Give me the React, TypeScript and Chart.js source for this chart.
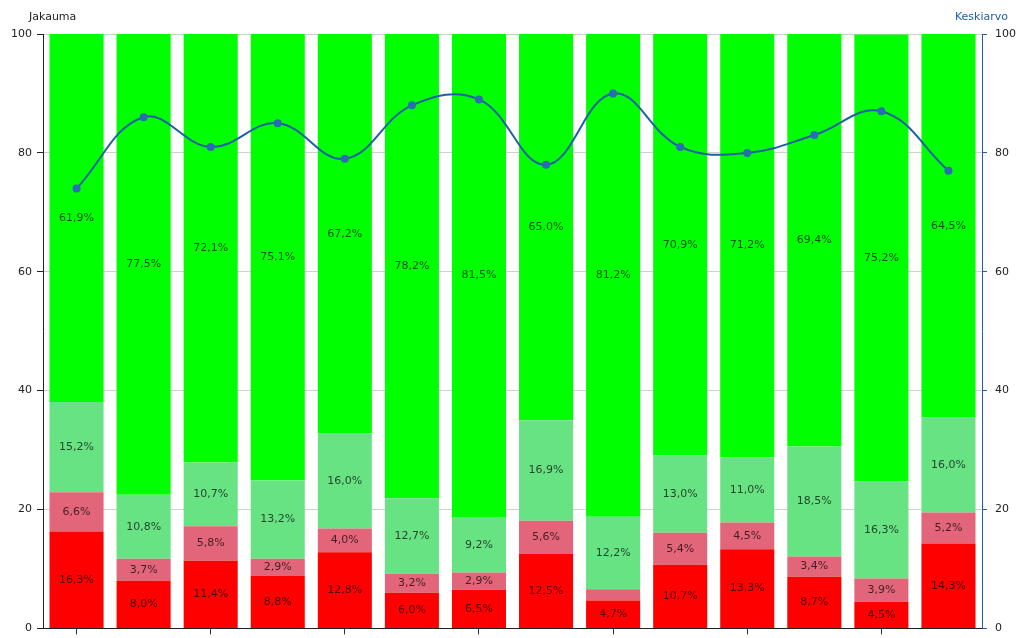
import React, { useEffect, useRef } from "react";
import { Chart, registerables } from "chart.js";

Chart.register(...registerables);

const categories = ["1", "2", "3", "4", "5", "6", "7", "8", "9", "10", "11", "12", "13", "14"];
const redValues = [16.3, 8.0, 11.4, 8.8, 12.8, 6.0, 6.5, 12.5, 4.7, 10.7, 13.3, 8.7, 4.5, 14.3];
const pinkValues = [6.6, 3.7, 5.8, 2.9, 4.0, 3.2, 2.9, 5.6, 1.9, 5.4, 4.5, 3.4, 3.9, 5.2];
const lightGreenValues = [15.2, 10.8, 10.7, 13.2, 16.0, 12.7, 9.2, 16.9, 12.2, 13.0, 11.0, 18.5, 16.3, 16.0];
const greenValues = [61.9, 77.5, 72.1, 75.1, 67.2, 78.2, 81.5, 65.0, 81.2, 70.9, 71.2, 69.4, 75.2, 64.5];
const averageValues = [74, 86, 81, 85, 79, 88, 89, 78, 90, 81, 80, 83, 87, 77];
const leftTitle = "Jakauma";
const rightTitle = "Keskiarvo";

const FONT = "'DejaVu Sans', Verdana, sans-serif";
const BLUE = "#1f5fa6";

const labelPlugin = {
  id: "barLabels",
  afterDatasetsDraw(chart: any) {
    const ctx = chart.ctx;
    ctx.save();
    ctx.font = `11px ${FONT}`;
    ctx.textAlign = "center";
    ctx.textBaseline = "middle";
    ctx.fillStyle = "rgba(0,0,0,0.7)";
    chart.data.datasets.forEach((ds: any, di: number) => {
      if (ds.type === "line") return;
      const meta = chart.getDatasetMeta(di);
      meta.data.forEach((el: any, i: number) => {
        const v = ds.data[i];
        if (v < 2.5) return;
        const y = (el.y + el.base) / 2;
        ctx.fillText(v.toFixed(1).replace(".", ",") + "%", el.x, y);
      });
    });
    ctx.restore();
  },
  afterDraw(chart: any) {
    const ctx = chart.ctx;
    const area = chart.chartArea;
    ctx.save();
    ctx.font = `11px ${FONT}`;
    ctx.textBaseline = "middle";
    ctx.fillStyle = "#222";
    ctx.textAlign = "left";
    ctx.fillText(leftTitle, area.left - 14, 17);
    ctx.fillStyle = BLUE;
    ctx.textAlign = "right";
    ctx.fillText(rightTitle, area.right + 26, 17);
    ctx.restore();
  },
};

export default function App() {
  const ref = useRef<HTMLCanvasElement>(null);
  useEffect(() => {
    if (!ref.current) return;
    const barCommon = {
      type: "bar" as const,
      yAxisID: "y",
      stack: "s",
      order: 1,
      categoryPercentage: 1,
      barPercentage: 0.806,
      borderWidth: 0,
    };
    const chart = new Chart(ref.current, {
      type: "bar",
      data: {
        labels: categories,
        datasets: [
          { ...barCommon, label: "r", data: redValues, backgroundColor: "#ff0000" },
          { ...barCommon, label: "p", data: pinkValues, backgroundColor: "#e2657a" },
          { ...barCommon, label: "lg", data: lightGreenValues, backgroundColor: "#68e383" },
          { ...barCommon, label: "g", data: greenValues, backgroundColor: "#00ff00" },
          {
            type: "line",
            label: "avg",
            data: averageValues,
            yAxisID: "y1",
            order: 0,
            borderColor: BLUE,
            backgroundColor: "#2a6cb3",
            borderWidth: 2,
            pointRadius: 4,
            pointBorderWidth: 0,
            tension: 0.4,
            fill: false,
          } as any,
        ],
      },
      options: {
        animation: false,
        responsive: false,
        maintainAspectRatio: false,
        layout: { padding: { top: 34, left: 0, right: 0, bottom: 0 } },
        plugins: { legend: { display: false }, tooltip: { enabled: false } },
        scales: {
          x: {
            stacked: true,
            offset: true,
            grid: {
              offset: false,
              drawOnChartArea: false,
              drawTicks: true,
              tickLength: 6,
              tickColor: (c: any) => (c.index % 2 === 0 ? "#333" : "rgba(0,0,0,0)"),
            },
            border: { color: "#222", width: 1 },
            ticks: { display: false },
            afterFit: (s: any) => { s.height = 10; },
          },
          y: {
            stacked: true,
            position: "left",
            min: 0,
            max: 100,
            ticks: { stepSize: 20, color: "#222", font: { family: FONT, size: 11 }, padding: 5 },
            grid: { color: "#d0d0d0", tickColor: "#222", tickLength: 6 },
            border: { color: "#222", width: 1 },
            afterFit: (s: any) => { s.width = 43; },
          },
          y1: {
            position: "right",
            min: 0,
            max: 100,
            ticks: { stepSize: 20, color: "#222", font: { family: FONT, size: 11 }, padding: 8 },
            grid: { drawOnChartArea: false, tickColor: BLUE, tickLength: 5 },
            border: { color: BLUE, width: 1 },
            afterFit: (s: any) => { s.width = 42; },
          },
        },
      } as any,
      plugins: [labelPlugin],
    });
    return () => chart.destroy();
  }, []);
  return (
    <div style={{ position: "fixed", left: 0, top: 0, width: 1024, height: 638, background: "#fff", overflow: "hidden" }}>
      <canvas ref={ref} width={1024} height={643} style={{ display: "block" }} />
    </div>
  );
}
